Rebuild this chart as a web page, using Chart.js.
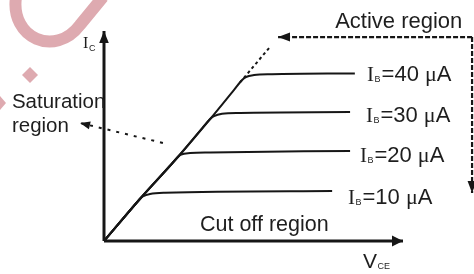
<!DOCTYPE html>
<html>
<head>
<meta charset="utf-8">
<script src="https://cdn.jsdelivr.net/npm/chart.js@4.4.1/dist/chart.umd.min.js"></script>
<style>
html,body{margin:0;padding:0;background:#fff;}
#wrap{width:474px;height:274px;position:relative;}
</style>
</head>
<body>
<div id="wrap"><canvas id="c" width="474" height="274"></canvas></div>
<script>
// ---- data (VCE in arbitrary units, IC in arbitrary units) ----
const axisVceX = [0, 10];
const axisVceY = [0, 0];
const axisIcX = [0, 0];
const axisIcY = [0, 10];

const ib10X = [0, 1.0, 1.2, 1.30, 1.54, 2.04, 7.63];
const ib10Y = [0, 1.67, 2.0, 2.12, 2.24, 2.30, 2.38];

const ib20X = [0, 1.2, 2.2, 2.47, 2.58, 2.88, 3.55, 8.23];
const ib20Y = [0, 2.0, 3.57, 4.0, 4.12, 4.19, 4.22, 4.29];

const ib30X = [0, 1.2, 2.47, 3.3, 3.55, 3.68, 3.95, 4.55, 8.23];
const ib30Y = [0, 2.0, 4.0, 5.4, 5.81, 5.95, 6.06, 6.10, 6.14];

const ib40X = [0, 1.2, 2.47, 3.55, 4.35, 4.62, 4.75, 5.02, 5.62, 8.39];
const ib40Y = [0, 2.0, 4.0, 5.81, 7.20, 7.67, 7.81, 7.90, 7.94, 7.98];

const extX = [4.55, 5.55];
const extY = [7.55, 9.24];

const satPtrX = [1.97, -0.8];
const satPtrY = [4.67, 5.62];

const actHX = [12.31, 5.82];
const actHY = [9.71, 9.71];
const actVX = [12.31, 12.31];
const actVY = [9.71, 2.29];

const ibValues = ['40', '30', '20', '10'];
const ibLabelX = [8.80, 8.76, 8.56, 8.16];
const ibLabelY = [7.62, 5.67, 3.76, 1.76];

const textLabels = ['Active region', 'Saturation', 'region', 'Cut off region'];
const textX = [7.73, -3.08, -3.08, 3.21];
const textY = [10.14, 6.33, 5.19, 0.48];

function pts(xs, ys) { return xs.map((x, i) => ({x: x, y: ys[i]})); }

const INK = '#161616';
const SANS = '"Liberation Sans", Arial, sans-serif';
const SERIF = '"Liberation Serif", "Times New Roman", serif';

function lineDs(xs, ys, opts) {
  return Object.assign({
    data: pts(xs, ys), showLine: true, pointRadius: 0, borderColor: INK,
    borderWidth: 2, fill: false, clip: false, tension: 0
  }, opts || {});
}

const datasets = [
  lineDs(axisVceX, axisVceY, {borderWidth: 3, arrow: {len: 11, half: 5.5}}),
  lineDs(axisIcX, axisIcY, {borderWidth: 3, arrow: {len: 12, half: 4.8}}),
  lineDs(ib10X, ib10Y, {cubicInterpolationMode: 'monotone'}),
  lineDs(ib20X, ib20Y, {cubicInterpolationMode: 'monotone'}),
  lineDs(ib30X, ib30Y, {cubicInterpolationMode: 'monotone'}),
  lineDs(ib40X, ib40Y, {cubicInterpolationMode: 'monotone'}),
  lineDs(extX, extY, {borderDash: [3, 3], borderWidth: 2}),
  lineDs(satPtrX, satPtrY, {borderDash: [3, 6], borderWidth: 2, arrow: {len: 10, half: 4}}),
  lineDs(actHX, actHY, {borderDash: [5, 2], borderWidth: 2.2, arrow: {len: 12, half: 4.5}}),
  lineDs(actVX, actVY, {borderDash: [5, 2], borderWidth: 2.2, arrow: {len: 12, half: 4.5}})
];

const arrowPlugin = {
  id: 'arrows',
  afterDatasetsDraw(chart) {
    const ctx = chart.ctx;
    chart.data.datasets.forEach((ds, i) => {
      if (!ds.arrow) return;
      const meta = chart.getDatasetMeta(i);
      const n = meta.data.length;
      const a = meta.data[n - 2], b = meta.data[n - 1];
      const ang = Math.atan2(b.y - a.y, b.x - a.x);
      const L = ds.arrow.len, H = ds.arrow.half;
      ctx.save();
      ctx.translate(b.x, b.y);
      ctx.rotate(ang);
      ctx.fillStyle = INK;
      ctx.beginPath();
      ctx.moveTo(0, 0);
      ctx.lineTo(-L, -H);
      ctx.lineTo(-L, H);
      ctx.closePath();
      ctx.fill();
      ctx.restore();
    });
  }
};

function rich(ctx, x, y, parts) {
  let cx = x;
  parts.forEach(p => {
    ctx.font = p.font;
    ctx.fillText(p.t, cx, y + (p.dy || 0));
    cx += ctx.measureText(p.t).width + (p.gap || 0);
  });
}

const textPlugin = {
  id: 'texts',
  afterDraw(chart) {
    const ctx = chart.ctx;
    const sx = chart.scales.x, sy = chart.scales.y;
    ctx.save();
    ctx.fillStyle = '#1e1e1e';
    ctx.textBaseline = 'alphabetic';
    ctx.textAlign = 'left';
    const sizes = [22, 20.5, 20.5, 21.5];
    textLabels.forEach((t, i) => {
      ctx.font = sizes[i] + 'px ' + SANS;
      ctx.fillText(t, sx.getPixelForValue(textX[i]), sy.getPixelForValue(textY[i]));
    });
    ibValues.forEach((v, i) => {
      rich(ctx, sx.getPixelForValue(ibLabelX[i]), sy.getPixelForValue(ibLabelY[i]), [
        {t: 'I', font: '21px ' + SERIF, gap: 0.5},
        {t: 'B', font: '9px ' + SANS, dy: 1, gap: 1},
        {t: '=' + v + ' ', font: '22px ' + SANS},
        {t: 'μ', font: '22px ' + SERIF},
        {t: 'A', font: '22px ' + SANS}
      ]);
    });
    // axis titles
    rich(ctx, sx.getPixelForValue(8.66), sy.getPixelForValue(-1.29), [
      {t: 'V', font: '21px ' + SANS, gap: 0.5},
      {t: 'CE', font: '9px ' + SANS, dy: 1}
    ]);
    rich(ctx, sx.getPixelForValue(-0.70), sy.getPixelForValue(9.19), [
      {t: 'I', font: '16px ' + SERIF, gap: 0.5},
      {t: 'C', font: '9px ' + SANS, dy: 3}
    ]);
    ctx.restore();
  }
};

const watermarkPlugin = {
  id: 'watermark',
  beforeDraw(chart) {
    const ctx = chart.ctx;
    ctx.save();
    ctx.strokeStyle = 'rgb(222,170,176)';
    ctx.fillStyle = 'rgb(222,170,176)';
    ctx.lineWidth = 12;
    ctx.beginPath();
    ctx.moveTo(16, -3);
    ctx.bezierCurveTo(10, 38, 55, 58, 80, 25);
    ctx.lineTo(103, -3);
    ctx.stroke();
    ctx.beginPath();
    ctx.moveTo(30, 67); ctx.lineTo(38, 75); ctx.lineTo(30, 83); ctx.lineTo(22, 75);
    ctx.closePath(); ctx.fill();
    ctx.beginPath();
    ctx.moveTo(0, 96); ctx.lineTo(6, 103); ctx.lineTo(0, 110);
    ctx.closePath(); ctx.fill();
    ctx.restore();
  }
};

new Chart(document.getElementById('c'), {
  type: 'scatter',
  data: {datasets: datasets},
  options: {
    responsive: false,
    devicePixelRatio: 1,
    animation: false,
    events: [],
    layout: {padding: {left: 104, right: 71, top: 31, bottom: 33}},
    plugins: {legend: {display: false}, tooltip: {enabled: false}},
    scales: {
      x: {type: 'linear', min: 0, max: 10, display: false},
      y: {type: 'linear', min: 0, max: 10, display: false}
    }
  },
  plugins: [watermarkPlugin, arrowPlugin, textPlugin]
});
</script>
</body>
</html>
